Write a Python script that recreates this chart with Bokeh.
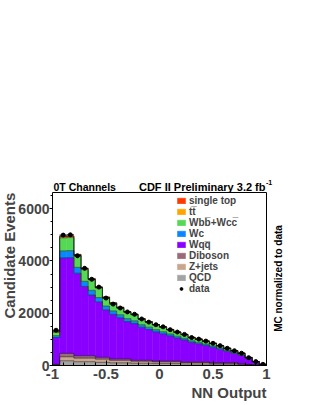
import numpy as np
from bokeh.plotting import figure
from bokeh.models import (Range1d, FixedTicker, Label, Legend, LegendItem, BoxAnnotation, Title)
from bokeh.embed import file_html
from bokeh.resources import INLINE

# ---------------- data ----------------
n_bins = 30
x_lo, x_hi = -1.0, 1.0
y_max = 6620
qcd   = [20,180,180,145,145,145,120,120,100,100,100,85,85,85,75,75,75,75,60,60,60,60,45,45,45,45,30,20,10,5]
zjets = [15,155,155,140,140,140,125,125,100,100,100,80,80,80,65,65,65,65,55,55,55,55,40,40,40,40,25,15,8,3]
dibos = [10,130,130,90,90,90,70,70,50,50,50,35,35,35,30,30,30,30,25,25,25,25,20,20,20,20,10,8,5,2]
wqq   = [1027,3650,3660,3155,2651,2322,2121,1815,1708,1571,1431,1404,1264,1177,1116,1042,961,880,838,748,690,629,595,521,438,361,323,213,100,26]
wc    = [70,270,270,225,195,180,165,145,130,120,112,105,97,90,85,80,75,70,64,58,54,50,46,41,36,31,26,17,8,3]
wbb   = [130,500,500,440,445,400,360,310,280,260,240,225,205,190,178,168,155,143,132,120,112,103,93,83,72,61,50,33,16,5]
ttbar = [20,45,45,38,34,30,27,24,22,20,19,18,17,16,15,14,13,12,11,10,10,9,8,7,6,5,4,3,2,1]
stop  = [8,20,20,17,15,13,12,11,10,9,8,8,7,7,6,6,6,5,5,4,4,4,3,3,3,2,2,1,1,0]
data  = [1350,4990,5000,4200,3720,3300,3000,2580,2350,2200,2050,1960,1780,1660,1560,1480,1370,1280,1190,1070,1010,935,850,760,660,565,470,300,150,45]

x_ticks = [-1, -0.5, 0, 0.5, 1]
x_tick_labels = ["-1", "-0.5", "0", "0.5", "1"]
y_ticks = [0, 2000, 4000, 6000]

# stack order bottom -> top
layers = [
    ("QCD", qcd, "#a3a3a3"),
    ("Z+jets", zjets, "#c9a58e"),
    ("Diboson", dibos, "#9a6a78"),
    ("Wqq\u0305", wqq, "#8a00ff"),
    ("Wc", wc, "#0a86ff"),
    ("Wbb\u0305+Wcc\u0305", wbb, "#55d955"),
    ("tt\u0305", ttbar, "#ffa500"),
    ("single top", stop, "#ff3a00"),
]
legend_order = ["single top", "tt\u0305", "Wbb\u0305+Wcc\u0305", "Wc", "Wqq\u0305",
                "Diboson", "Z+jets", "QCD"]

edges = np.linspace(x_lo, x_hi, n_bins + 1)
left, right = edges[:-1], edges[1:]
centers = 0.5 * (left + right)

FONT = "Liberation Sans"

# frame: box (-1..1, 0..y_max) sits at page x 52..266, y 192..365; the frame is
# extended up to the top and to the right edge so that the texts can live inside it
W, H = 312, 404
PX_PER_X = 107.0
PX_PER_Y = 173.0 / y_max
frame_left, frame_bottom = 52, 365
x_end = x_lo + (W - frame_left) / PX_PER_X
y_end = frame_bottom / PX_PER_Y

p = figure(width=W, height=H, output_backend="svg", toolbar_location=None,
           title_location=None,
           x_range=Range1d(x_lo, x_end), y_range=Range1d(0, y_end),
           min_border_left=frame_left, min_border_right=0, min_border_top=0,
           min_border_bottom=H - frame_bottom)
p.background_fill_color = "white"
p.border_fill_color = "white"
p.outline_line_color = None
p.xgrid.visible = False
p.ygrid.visible = False

bottom = np.zeros(n_bins)
renderers = {}
tops = []
for name, vals, col in layers:
    v = np.array(vals, dtype=float)
    top = bottom + v
    r = p.quad(left=left, right=right, bottom=bottom, top=top,
               fill_color=col, line_color=col, line_width=0.5)
    renderers[name] = r
    tops.append(top)
    bottom = top

for top in tops:
    p.step(x=edges, y=np.append(top, top[-1]), mode="after",
           line_color="#1a1a1a", line_width=0.7, line_alpha=0.75)

# data points with errors
d = np.array(data, dtype=float)
err = np.sqrt(d)
p.segment(x0=centers, x1=centers, y0=d - err, y1=d + err, line_color="black", line_width=1)
p.segment(x0=left, x1=right, y0=d, y1=d, line_color="black", line_width=1)
rdata = p.scatter(x=centers, y=d, size=4, color="black")

# frame box
p.add_layout(BoxAnnotation(left=x_lo, right=x_hi, bottom=0, top=y_max,
                           fill_alpha=0, line_color="black", line_width=1, line_alpha=1))

# axes
xa = p.xaxis[0]
xa.bounds = (x_lo, x_hi)
xa.ticker = FixedTicker(ticks=x_ticks,
                        minor_ticks=list(np.round(np.arange(-1, 1.0001, 0.1), 2)))
xa.major_tick_in = 5
xa.major_tick_out = 0
xa.minor_tick_in = 3
xa.minor_tick_out = 0
xa.major_label_text_font = FONT
xa.major_label_text_font_style = "bold"
xa.major_label_text_font_size = "15px"
xa.major_label_standoff = 3
xa.major_label_overrides = dict(zip(x_ticks, x_tick_labels))

ya = p.yaxis[0]
ya.bounds = (0, y_max)
ya.ticker = FixedTicker(ticks=y_ticks, minor_ticks=list(range(0, 6600, 500)))
ya.major_tick_in = 0
ya.major_tick_out = 3
ya.minor_tick_in = 0
ya.minor_tick_out = 2
ya.major_label_text_font = FONT
ya.major_label_text_font_style = "bold"
ya.major_label_text_font_size = "14px"
ya.major_label_standoff = 0

# legend
items = [LegendItem(label=n, renderers=[renderers[n]]) for n in legend_order]
items.append(LegendItem(label="data", renderers=[rdata]))
leg = Legend(items=items, location=(124, 71), orientation="vertical",
             glyph_width=10, glyph_height=7, label_height=7, spacing=0,
             padding=0, margin=0, label_standoff=3,
             label_text_font=FONT, label_text_font_style="bold", label_text_font_size="10px",
             border_line_color=None, background_fill_alpha=0)
p.add_layout(leg)

# titles outside the frame
p.add_layout(Title(text="Candidate Events", text_font=FONT, text_font_style="bold",
                   text_font_size="15px", align="left", offset=47, standoff=-5), "left")
p.add_layout(Title(text="NN Output", text_font=FONT, text_font_style="bold",
                   text_font_size="15px", align="right", offset=W - 266, standoff=0), "below")

def px2x(px):
    return x_lo + (px - frame_left) / PX_PER_X

def py2y(py):
    return (frame_bottom - py) / PX_PER_Y

def lab(text, px, py, size, align="left", angle=0):
    p.add_layout(Label(x=px2x(px), y=py2y(py), text=text, text_font=FONT,
                       text_font_style="bold", text_font_size=size, text_align=align,
                       text_baseline="middle", angle=angle, text_color="black"))

lab("0T Channels", 53, 186, "10.5px")
lab("CDF II Preliminary 3.2 fb", 265, 186, "11px", align="right")
lab("-1", 265.5, 182, "7px")
lab("MC normalized to data", 278, 278, "10px", align="center", angle=np.pi / 2)

open("out.html", "w").write(file_html(p, INLINE))
